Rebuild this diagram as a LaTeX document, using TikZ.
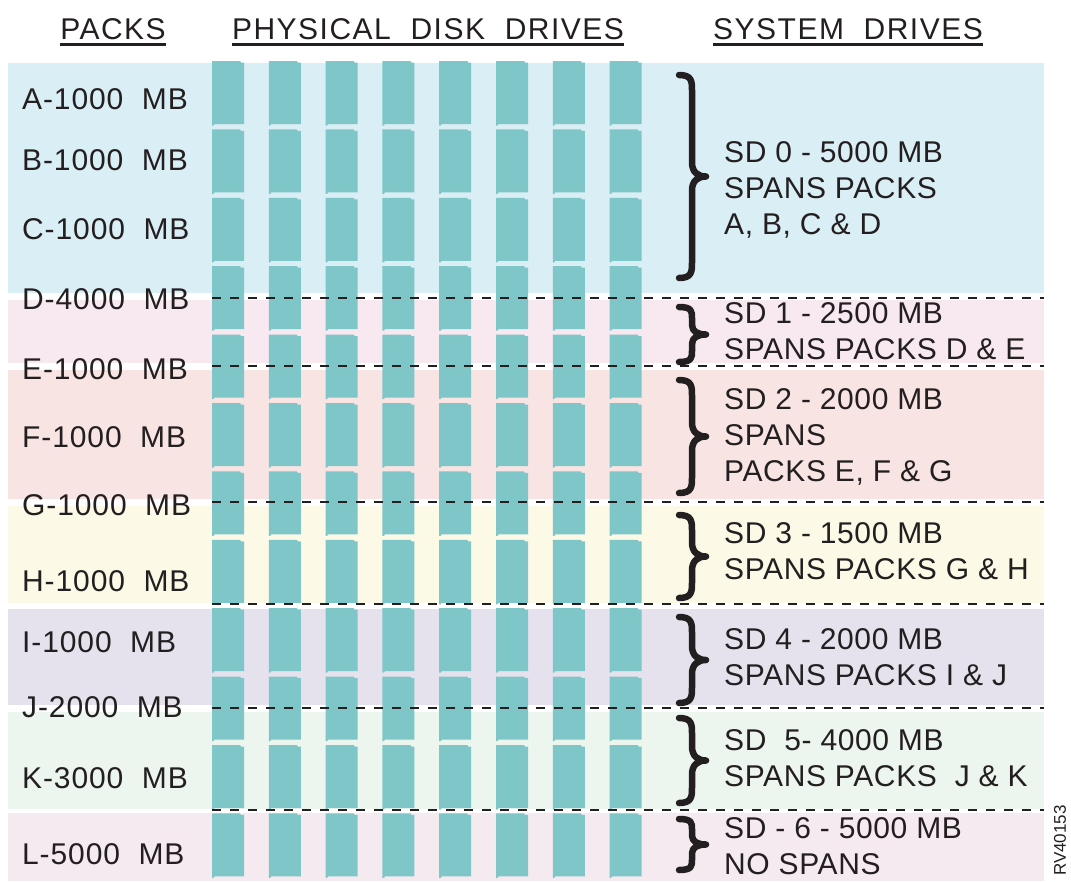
\documentclass[tikz,border=0pt]{standalone}
\usepackage{fontspec}
\setmainfont{Liberation Sans}
\newfontfamily\hdrfont[LetterSpace=5]{Liberation Sans}
\newfontfamily\packfont[LetterSpace=3]{Liberation Sans}
\newfontfamily\sdfont[LetterSpace=2]{Liberation Sans}
\usepackage{tikz}
\usetikzlibrary{calc,positioning}
\definecolor{mydisk}{RGB}{127,198,200}
\definecolor{mytext}{RGB}{35,31,32}
\definecolor{bandA}{RGB}{218,238,245}
\definecolor{bandB}{RGB}{248,233,241}
\definecolor{bandC}{RGB}{249,228,228}
\definecolor{bandD}{RGB}{252,249,231}
\definecolor{bandE}{RGB}{229,226,238}
\definecolor{bandF}{RGB}{236,245,238}
\definecolor{bandG}{RGB}{245,234,240}

\begin{document}
\begin{tikzpicture}[
  x=1pt,
  y=-1pt,
  header/.style={
    font=\hdrfont\fontsize{30}{36}\selectfont,
    text=mytext,
    inner sep=0pt,
    anchor=base
    },
  packlbl/.style={
    font=\packfont\fontsize{30}{36}\selectfont,
    text=mytext,
    inner sep=0pt,
    anchor=base west
    },
  sdlbl/.style={
    font=\sdfont\fontsize{30}{36}\selectfont,
    text=mytext,
    inner sep=0pt,
    anchor=west,
    align=left
    },
  underl/.style={
    draw=mytext,
    line width=2.6pt
    },
  disk/.style={
    fill=mydisk
    },
  sep/.style={
    draw=mytext,
    line width=1.8pt,
    dash pattern=on 9pt off 9pt
    },
  bracestroke/.style={
    draw=mytext,
    line width=6.5pt,
    line cap=round,
    line join=round
    }
]
\useasboundingbox (0,0) rectangle (1071,881);

% colour bands
\foreach \top/\bot/\col in {63/293/bandA, 300/363/bandB, 370/499/bandC, 506/603/bandD, 609/705/bandE, 712/809/bandF, 813/881/bandG}
  \fill[\col] (8,\top) rectangle (1044,\bot);

% physical disk drives
\foreach \r in {0,...,11}
  \foreach \c in {0,...,7}
    \fill[disk] ({212+56.8*\c},{61+68.4*\r}) -- ++(28,0) -- ++(1,1.5) -- ++(3,0)
      -- ++(0,61.5) -- ++(-29.5,0) -- ++(-1,1.5) -- ++(-1.5,0) -- cycle;

% separators between system drives
\foreach \y in {298,366,502,604,708,810}
  \draw[sep] (212,\y) -- (1044,\y);

% headers
\node[header] (hpacks) at (113,39) {PACKS};
\node[header] (hdisks) at (428,39) {PHYSICAL\ \ DISK\ \ DRIVES};
\node[header] (hsys) at (848,39) {SYSTEM\ \ DRIVES};
\foreach \h in {hpacks,hdisks,hsys}
  \draw[underl] ([yshift=-5pt]\h.south west) -- ([yshift=-5pt]\h.south east);

% packs
\foreach \lbl/\y [count=\i] in {A-1000/98, B-1000/159, C-1000/228, D-4000/298, E-1000/368, F-1000/436, G-1000/504, H-1000/580, I-1000/641, J-2000/706, K-3000/777, L-5000/853}
  \node[packlbl] (pack\i) at (22,{\y+11}) {\lbl\ \ MB};

% braces
\foreach \bt/\bb [count=\i] in {75/278, 307/362, 380/493, 515/598, 617/703, 718/803, 819/870}{
  \pgfmathsetmacro\bm{(\bt+\bb)/2}
  \pgfmathsetmacro\hk{min(16,0.4*(\bb-\bt)/2)}
  \pgfmathsetmacro\md{min(14,0.35*(\bb-\bt)/2)}
  \coordinate (brt\i) at (679,\bt);
  \coordinate (brb\i) at (679,\bb);
  \coordinate (brtip\i) at (706,\bm);
  \draw[bracestroke] (brt\i) .. controls (692,\bt) and (692,{\bt+0.4*\hk}) .. (692,{\bt+\hk})
    -- (692,{\bm-\md}) .. controls (692,{\bm-0.3*\md}) and (698,\bm) .. (brtip\i)
    .. controls (698,\bm) and (692,{\bm+0.3*\md}) .. (692,{\bm+\md})
    -- (692,{\bb-\hk}) .. controls (692,{\bb-0.4*\hk}) and (692,\bb) .. (brb\i);
}

% system drives
\node[sdlbl] (sd0) at (724,190) {SD 0 - 5000 MB\\SPANS PACKS\\A, B, C \& D};
\node[sdlbl] (sd1) at (724,331) {SD 1 - 2500 MB\\SPANS PACKS D \& E};
\node[sdlbl] (sd2) at (724,437) {SD 2 - 2000 MB\\SPANS\\PACKS E, F \& G};
\node[sdlbl] (sd3) at (724,551) {SD 3 - 1500 MB\\SPANS PACKS G \& H};
\node[sdlbl] (sd4) at (724,657) {SD 4 - 2000 MB\\SPANS PACKS I \& J};
\node[sdlbl] (sd5) at (724,758) {SD\ \ 5- 4000 MB\\SPANS PACKS\ \ J \& K};
\node[sdlbl] (sd6) at (724,846) {SD - 6 - 5000 MB\\NO SPANS};

% figure id
\node[rotate=90, anchor=east, inner sep=0pt, text=mytext, font=\fontsize{17}{20}\selectfont] (figid) at (1060,805) {RV40153};

\end{tikzpicture}
\end{document}
